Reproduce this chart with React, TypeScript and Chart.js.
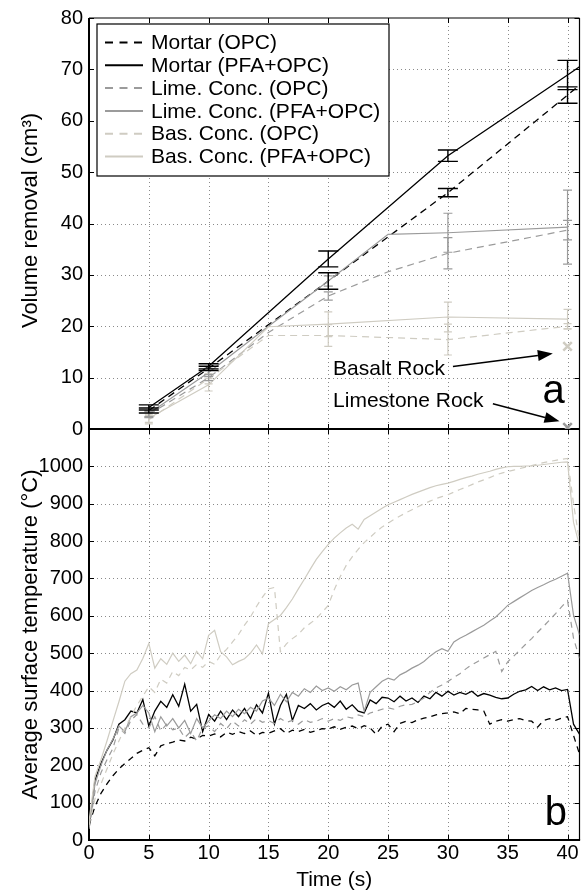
import React, { useEffect, useRef } from 'react';
import { Chart, registerables } from 'chart.js';

Chart.register(...registerables);

const FONT = '"Liberation Sans", Arial, Helvetica, sans-serif';
const BLACK = '#000000';
const LIME = '#9b9b9b';
const BAS = '#cfccc2';

// ---------- Panel a: volume removal (cm^3) ----------
const mortarTimes = [5, 10, 20, 30, 40, 41];
const mortarOpcVolume = [3.6, 11.8, 28.8, 46.0, 65.0, 66.9];
const mortarOpcError = [0.5, 0.4, 1.6, 0.8, 1.6, null];
const mortarPfaVolume = [4.2, 12.2, 33.1, 53.2, 68.9, 70.5];
const mortarPfaError = [0.5, 0.5, 1.55, 1.1, 2.85, null];

const limeTimes = [5, 10, 15, 20, 25, 30, 40];
const limeOpcVolume = [2.8, 10.0, 18.8, 25.9, 30.6, 34.2, 38.7];
const limeOpcError = [0.6, 0.6, null, 0.8, null, 3.05, 1.9];
const limePfaVolume = [3.0, 11.0, 20.0, 28.8, 37.9, 38.2, 39.3];
const limePfaError = [0.6, 0.8, null, 1.0, null, 3.8, 7.2];

const basTimes = [5, 10, 15, 20, 30, 40];
const basOpcVolume = [1.8, 9.8, 18.2, 18.2, 17.4, 20.0];
const basOpcError = [0.8, 1.0, null, 2.1, 3.0, 0.5];
const basPfaVolume = [2.1, 8.6, 19.9, 20.4, 21.8, 21.4];
const basPfaError = [0.8, 1.2, null, 2.4, 2.9, 1.9];

const rockTimes = [40];
const basaltRockVolume = [16.1];
const limestoneRockVolume = [0.3];

// ---------- Panel b: average surface temperature (degC) ----------
const tempTimes = [
  0, 0.5, 1, 1.5, 2, 2.5, 3, 3.5, 4, 4.5,
  5, 5.5, 6, 6.5, 7, 7.5, 8, 8.5, 9, 9.5,
  10, 10.5, 11, 11.5, 12, 12.5, 13, 13.5, 14, 14.5,
  15, 15.5, 16, 16.5, 17, 17.5, 18, 18.5, 19, 19.5,
  20, 20.5, 21, 21.5, 22, 22.5, 23, 23.5, 24, 24.5,
  25, 25.5, 26, 26.5, 27, 27.5, 28, 28.5, 29, 29.5,
  30, 30.5, 31, 31.5, 32, 32.5, 33, 33.5, 34, 34.5,
  35, 35.5, 36, 36.5, 37, 37.5, 38, 38.5, 39, 39.5,
  40, 40.5, 41,
];
const mortarOpcTemp = [
  40, 90, 125, 150, 172, 190, 205, 218, 232, 240,
  247, 225, 252, 258, 262, 268, 265, 275, 270, 280,
  278, 284, 276, 288, 283, 290, 285, 292, 280, 288,
  286, 292, 298, 285, 294, 290, 296, 288, 293, 298,
  297, 303, 296, 302, 305, 298, 306, 300, 283, 305,
  310, 290, 312, 318, 314, 322, 326, 330, 335, 338,
  340, 343, 338, 352, 350, 348, 345, 310, 318, 322,
  318, 322, 325, 320, 318, 302, 320, 325, 320, 326,
  330, 280, 230,
];
const mortarPfaTemp = [
  30, 160, 205, 240, 268, 310, 322, 345, 340, 376,
  305, 345, 371, 355, 389, 358, 417, 345, 363, 290,
  336, 318, 345, 322, 348, 330, 352, 325, 362, 340,
  393, 310, 360, 390, 320, 360, 352, 365, 348, 360,
  367, 355, 372, 350, 362, 345, 340, 375, 365, 382,
  380, 370, 385, 372, 380, 368, 385, 378, 395, 385,
  398, 388, 395, 390, 398, 385, 392, 388, 382, 378,
  380, 390, 398, 402, 411, 400, 410, 402, 407, 400,
  403, 310, 283,
];
const limeOpcTemp = [
  30, 130, 180, 215, 245, 300, 285, 320, 336, 310,
  300, 330, 292, 310, 295, 300, 274, 290, 265, 300,
  305, 290, 312, 298, 318, 305, 322, 310, 325, 315,
  320, 312, 325, 315, 320, 310, 322, 315, 318, 325,
  318, 325, 320, 330, 326, 335, 330, 340, 345, 350,
  354, 350, 358, 362, 363, 370, 380, 395, 407, 415,
  424, 435, 445, 458, 469, 478, 487, 496, 505, 451,
  477, 492, 508, 524, 539, 556, 572, 589, 606, 624,
  641, 540, 486,
];
const limePfaTemp = [
  35, 150, 200, 240, 270, 305, 290, 330, 340, 360,
  340, 290, 330, 305, 325, 300, 320, 285, 325, 300,
  318, 335, 325, 345, 330, 350, 338, 355, 345, 372,
  380, 360, 390, 370, 395, 385, 405, 395, 412, 400,
  407, 398, 410, 402, 415, 420, 345, 395, 410, 425,
  433, 428, 442, 450, 460, 468, 478, 492, 504, 512,
  505, 530, 540, 548, 557, 566, 575, 586, 597, 612,
  628, 638, 648, 658, 668, 676, 683, 691, 698, 706,
  714, 602, 549,
];
const basOpcTemp = [
  40, 110, 150, 190, 230, 265, 300, 330, 360, 385,
  410, 395, 430, 420, 451, 440, 462, 455, 470, 462,
  478, 470, 495, 510, 530, 550, 575, 597, 625, 650,
  672, 676, 504, 525, 539, 550, 568, 580, 592, 610,
  628, 670, 705, 735, 758, 778, 796, 810, 825, 838,
  848, 858, 867, 876, 884, 892, 900, 907, 914, 919,
  924, 931, 938, 944, 951, 958, 964, 970, 977, 982,
  986, 990, 994, 998, 1002, 1006, 1010, 1013, 1016, 1019,
  1021, 900, 800,
];
const basPfaTemp = [
  50, 170, 215, 265, 318, 370, 425, 445, 455, 486,
  526, 460, 485, 470, 500, 478, 495, 472, 505, 485,
  548, 561, 504, 490, 469, 478, 485, 500, 522, 498,
  579, 590, 601, 622, 645, 672, 698, 725, 751, 772,
  791, 808, 822, 835, 845, 832, 858, 868, 878, 888,
  897, 904, 911, 918, 925, 931, 937, 943, 948, 952,
  955, 960, 965, 970, 974, 979, 983, 987, 992, 996,
  999, 1000, 1000, 1001, 1001, 1003, 1005, 1007, 1009, 1011,
  1012, 850, 787,
];

const seriesLabels = [
  'Mortar (OPC)',
  'Mortar (PFA+OPC)',
  'Lime. Conc. (OPC)',
  'Lime. Conc. (PFA+OPC)',
  'Bas. Conc. (OPC)',
  'Bas. Conc. (PFA+OPC)',
];
const seriesColors = [BLACK, BLACK, LIME, LIME, BAS, BAS];
const seriesDashed = [true, false, true, false, true, false];

const zip = (xs: number[], ys: number[]) => xs.map((x, i) => ({ x, y: ys[i] }));

const volumeSeries = [
  { t: mortarTimes, v: mortarOpcVolume, e: mortarOpcError },
  { t: mortarTimes, v: mortarPfaVolume, e: mortarPfaError },
  { t: limeTimes, v: limeOpcVolume, e: limeOpcError },
  { t: limeTimes, v: limePfaVolume, e: limePfaError },
  { t: basTimes, v: basOpcVolume, e: basOpcError },
  { t: basTimes, v: basPfaVolume, e: basPfaError },
];
const tempSeries = [mortarOpcTemp, mortarPfaTemp, limeOpcTemp, limePfaTemp, basOpcTemp, basPfaTemp];
const capHalf = [10, 10, 4.5, 4.5, 4, 4];

function drawArrow(ctx: CanvasRenderingContext2D, x0: number, y0: number, x1: number, y1: number) {
  const ang = Math.atan2(y1 - y0, x1 - x0);
  const len = 15;
  const w = 5.5;
  const bx = x1 - len * Math.cos(ang);
  const by = y1 - len * Math.sin(ang);
  ctx.beginPath();
  ctx.moveTo(x0, y0);
  ctx.lineTo(bx, by);
  ctx.stroke();
  ctx.beginPath();
  ctx.moveTo(x1, y1);
  ctx.lineTo(bx + w * Math.sin(ang), by - w * Math.cos(ang));
  ctx.lineTo(bx - w * Math.sin(ang), by + w * Math.cos(ang));
  ctx.closePath();
  ctx.fill();
}

const decorPlugin = {
  id: 'decor',
  beforeDatasetsDraw(chart: any) {
    const { ctx } = chart;
    const x = chart.scales.x, ya = chart.scales.y, yb = chart.scales.y2;
    ctx.save();
    // dotted grid
    ctx.strokeStyle = '#8a8a8a';
    ctx.lineWidth = 1;
    ctx.setLineDash([1, 3]);
    ctx.beginPath();
    x.ticks.forEach((t: any) => {
      if (t.value <= x.min || t.value >= x.max) return;
      const px = Math.round(x.getPixelForValue(t.value)) + 0.5;
      ctx.moveTo(px, ya.top);
      ctx.lineTo(px, yb.bottom);
    });
    [ya, yb].forEach((s: any) =>
      s.ticks.forEach((t: any) => {
        if (t.value <= s.min || t.value >= s.max) return;
        const py = Math.round(s.getPixelForValue(t.value)) + 0.5;
        ctx.moveTo(x.left, py);
        ctx.lineTo(x.right, py);
      })
    );
    ctx.stroke();
    ctx.setLineDash([]);

    // frames
    ctx.strokeStyle = '#000';
    ctx.lineWidth = 1.2;
    ctx.beginPath();
    ctx.moveTo(x.left, ya.top);
    ctx.lineTo(x.right, ya.top);
    ctx.moveTo(x.right, ya.top);
    ctx.lineTo(x.right, yb.bottom);
    ctx.stroke();
    ctx.lineWidth = 2;
    ctx.beginPath();
    ctx.moveTo(x.left, ya.top);
    ctx.lineTo(x.left, yb.bottom + 1);
    ctx.moveTo(x.left, ya.bottom);
    ctx.lineTo(x.right, ya.bottom);
    ctx.moveTo(x.left, yb.bottom);
    ctx.lineTo(x.right + 0.6, yb.bottom);
    ctx.stroke();

    // inward tick marks
    const tl = 5;
    ctx.lineWidth = 1;
    ctx.beginPath();
    [ya, yb].forEach((s: any) =>
      s.ticks.forEach((t: any) => {
        const py = Math.round(s.getPixelForValue(t.value)) + 0.5;
        ctx.moveTo(x.left, py);
        ctx.lineTo(x.left + tl, py);
        ctx.moveTo(x.right, py);
        ctx.lineTo(x.right - tl, py);
      })
    );
    x.ticks.forEach((t: any) => {
      const px = Math.round(x.getPixelForValue(t.value)) + 0.5;
      ctx.moveTo(px, ya.top);
      ctx.lineTo(px, ya.top + tl);
      ctx.moveTo(px, ya.bottom - tl);
      ctx.lineTo(px, ya.bottom + tl);
      ctx.moveTo(px, yb.bottom);
      ctx.lineTo(px, yb.bottom - tl);
    });
    ctx.stroke();
    ctx.restore();
  },
  afterDatasetsDraw(chart: any) {
    const { ctx } = chart;
    const x = chart.scales.x, ya = chart.scales.y, yb = chart.scales.y2;
    ctx.save();
    ctx.setLineDash([]);

    // error bars
    for (let k = volumeSeries.length - 1; k >= 0; k--) {
      const s = volumeSeries[k];
      ctx.strokeStyle = seriesColors[k];
      ctx.lineWidth = k < 2 ? 1.4 : 1.2;
      ctx.beginPath();
      s.t.forEach((t, i) => {
        const e = s.e[i];
        if (e == null) return;
        const px = x.getPixelForValue(t);
        const p1 = ya.getPixelForValue(s.v[i] + e);
        const p2 = ya.getPixelForValue(s.v[i] - e);
        const h = capHalf[k];
        ctx.moveTo(px, p1);
        ctx.lineTo(px, p2);
        ctx.moveTo(px - h, p1);
        ctx.lineTo(px + h, p1);
        ctx.moveTo(px - h, p2);
        ctx.lineTo(px + h, p2);
      });
      ctx.stroke();
    }

    // legend
    const lx = x.left + 8;
    const ly = ya.top + 6;
    const lw = 292;
    const lh = 152;
    ctx.fillStyle = '#fff';
    ctx.fillRect(lx, ly, lw, lh);
    ctx.strokeStyle = '#000';
    ctx.lineWidth = 1.2;
    ctx.strokeRect(lx, ly, lw, lh);
    ctx.font = `21px ${FONT}`;
    ctx.textBaseline = 'middle';
    ctx.textAlign = 'left';
    seriesLabels.forEach((label, i) => {
      const cy = ly + 18.5 + i * 22.8;
      ctx.strokeStyle = seriesColors[i];
      ctx.lineWidth = 2;
      ctx.setLineDash(seriesDashed[i] ? [8, 6.5] : []);
      ctx.beginPath();
      ctx.moveTo(lx + 8, cy);
      ctx.lineTo(lx + 46, cy);
      ctx.stroke();
      ctx.setLineDash([]);
      ctx.fillStyle = '#000';
      ctx.fillText(label, lx + 54, cy + 1);
    });

    // annotations
    ctx.fillStyle = '#000';
    ctx.strokeStyle = '#000';
    ctx.lineWidth = 1.5;
    ctx.font = `21px ${FONT}`;
    ctx.textBaseline = 'alphabetic';
    ctx.fillText('Basalt Rock', x.getPixelForValue(20.4), ya.getPixelForValue(10.5));
    ctx.fillText('Limestone Rock', x.getPixelForValue(20.4), ya.getPixelForValue(4.26));
    drawArrow(ctx, x.getPixelForValue(30.42), ya.getPixelForValue(12.15), x.getPixelForValue(38.77), ya.getPixelForValue(14.7));
    drawArrow(ctx, x.getPixelForValue(33.76), ya.getPixelForValue(4.9), x.getPixelForValue(39.33), ya.getPixelForValue(1.5));
    ctx.font = `40px ${FONT}`;
    ctx.fillText('a', x.getPixelForValue(37.9), ya.getPixelForValue(5.0));
    ctx.fillText('b', x.getPixelForValue(38.1), yb.getPixelForValue(40));

    // axis titles
    ctx.font = `22px ${FONT}`;
    ctx.textAlign = 'center';
    ctx.textBaseline = 'middle';
    ctx.font = `21px ${FONT}`;
    ctx.fillText('Time (s)', (x.left + x.right) / 2, 880);
    ctx.font = `22px ${FONT}`;
    ctx.save();
    ctx.translate(31, (ya.top + ya.bottom) / 2 - 3);
    ctx.rotate(-Math.PI / 2);
    ctx.fillText('Volume removal (cm³)', 0, 0);
    ctx.restore();
    ctx.save();
    ctx.translate(31, (yb.top + yb.bottom) / 2);
    ctx.rotate(-Math.PI / 2);
    ctx.fillText('Average surface temperature (°C)', 0, 0);
    ctx.restore();

    ctx.restore();
  },
};

export default function App() {
  const ref = useRef<HTMLCanvasElement | null>(null);

  useEffect(() => {
    const canvas = ref.current;
    if (!canvas) return;

    const datasets: any[] = [];
    // temperature lines (panel b)
    tempSeries.forEach((vals, i) => {
      datasets.push({
        label: seriesLabels[i] + ' T',
        data: zip(tempTimes, vals),
        yAxisID: 'y2',
        borderColor: seriesColors[i],
        borderWidth: i < 2 ? 1.3 : 1.2,
        borderDash: seriesDashed[i] ? [6, 5] : [],
        pointRadius: 0,
        tension: 0,
      });
    });
    // volume lines (panel a)
    volumeSeries.forEach((s, i) => {
      datasets.push({
        label: seriesLabels[i],
        data: zip(s.t, s.v),
        yAxisID: 'y',
        borderColor: seriesColors[i],
        borderWidth: i < 2 ? 1.3 : 1.2,
        borderDash: seriesDashed[i] ? [7, 5] : [],
        pointRadius: 0,
        tension: 0,
      });
    });
    datasets.push({
      label: 'Basalt Rock',
      data: zip(rockTimes, basaltRockVolume),
      yAxisID: 'y',
      showLine: false,
      pointStyle: 'crossRot',
      pointRadius: 6,
      borderWidth: 2.5,
      borderColor: BAS,
      backgroundColor: BAS,
    });
    datasets.push({
      label: 'Limestone Rock',
      data: zip(rockTimes, limestoneRockVolume),
      yAxisID: 'y',
      showLine: false,
      pointStyle: 'crossRot',
      pointRadius: 6,
      borderWidth: 2.5,
      borderColor: LIME,
      backgroundColor: LIME,
    });
    // first dataset is drawn on top: put the black mortar lines first
    datasets.reverse();

    const tickFont = { family: FONT, size: 20 };
    const chart = new Chart(canvas, {
      type: 'line',
      data: { datasets },
      plugins: [decorPlugin],
      options: {
        animation: false,
        responsive: false,
        devicePixelRatio: 1,
        events: [],
        layout: { padding: { top: 13, right: 8, left: 0, bottom: 0 } },
        plugins: { legend: { display: false }, tooltip: { enabled: false }, title: { display: false } },
        scales: {
          x: {
            type: 'linear',
            position: 'bottom',
            min: 0,
            max: 41,
            grid: { display: false, drawTicks: false },
            border: { display: false },
            ticks: { stepSize: 5, includeBounds: false, font: tickFont, color: '#000', padding: 1, maxRotation: 0, autoSkip: false },
            afterFit: (s: any) => { s.height = 53; },
          },
          y: {
            type: 'linear',
            position: 'left',
            stack: 'panels',
            stackWeight: 1,
            weight: 2,
            min: 0,
            max: 80,
            grid: { display: false, drawTicks: false },
            border: { display: false },
            ticks: { stepSize: 10, font: tickFont, color: '#000', padding: 6, autoSkip: false },
            afterFit: (s: any) => { s.width = 89; },
          },
          y2: {
            type: 'linear',
            position: 'left',
            stack: 'panels',
            stackWeight: 1,
            weight: 1,
            min: 0,
            max: 1100,
            grid: { display: false, drawTicks: false },
            border: { display: false },
            ticks: {
              stepSize: 100,
              font: tickFont,
              color: '#000',
              padding: 6,
              autoSkip: false,
              callback: (v: any) => (Number(v) > 1000 ? '' : String(v)),
            },
            afterFit: (s: any) => { s.width = 89; },
          },
        },
      } as any,
    });
    return () => chart.destroy();
  }, []);

  return (
    <div style={{ position: 'absolute', left: 0, top: 0, width: 588, height: 893, background: '#fff' }}>
      <canvas ref={ref} width={588} height={893} style={{ width: 588, height: 893, display: 'block' }} />
    </div>
  );
}
